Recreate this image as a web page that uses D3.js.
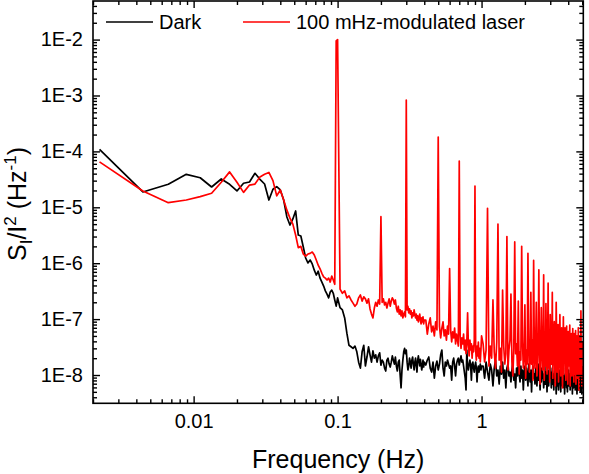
<!DOCTYPE html>
<html><head><meta charset="utf-8">
<script src="https://cdn.jsdelivr.net/npm/d3@7"></script>
<style>
body{margin:0;background:#fff}
svg{display:block}
text{font-family:"Liberation Sans",Arial,Helvetica,sans-serif;fill:#000}
</style>
</head><body>
<svg id="chart" width="589" height="474"></svg>
<script>
// ---------------- DATA ----------------
const seriesNames = ["Dark", "100 mHz-modulated laser"];
const seriesColors = ["#000000", "#ff0000"];

const xTickValues = [0.01, 0.1, 1];
const xTickLabels = ["0.01", "0.1", "1"];
const yTickValues = [1e-8, 1e-7, 1e-6, 1e-5, 1e-4, 1e-3, 1e-2];
const yTickLabels = ["1E-8", "1E-7", "1E-6", "1E-5", "1E-4", "1E-3", "1E-2"];

// frequency grid (Hz)
const freqLow = [0.00222,0.00444,0.00667,0.00889,0.01111,0.01333,0.01556,0.01778,0.02,0.02222,
0.02444,0.02667,0.02889,0.03111,0.03333,0.03556,0.03778,0.04,0.04222,0.04444,
0.04667,0.04889,0.05111,0.05333,0.05556,0.05778,0.06,0.06222,0.06444,0.06667,
0.06889,0.07111,0.07333,0.07556,0.07778,0.08,0.08222,0.08444,0.08667,0.08889,
0.09111,0.09333,0.09556,0.09778,0.1];
const freqMid = [0.104,0.108,0.112,0.116,0.12,0.124,0.128,0.132,0.136,0.14,
0.144,0.148,0.152,0.156,0.16,0.164,0.168,0.172,0.176,0.18,
0.184,0.188,0.192,0.196,0.2,0.204,0.208,0.212,0.216,0.22,
0.224,0.228,0.232,0.236,0.24,0.244,0.248,0.252,0.256,0.26,
0.264,0.268,0.272,0.276,0.28,0.284,0.288,0.292,0.296,0.3,
0.304,0.308,0.312,0.316,0.32,0.324,0.328,0.332,0.336,0.34,
0.344,0.348,0.352,0.356,0.36,0.364,0.368,0.372,0.376,0.38,
0.384,0.388,0.392,0.396,0.4];
const freqHigh = [0.41,0.42,0.43,0.44,0.45,0.46,0.47,0.48,0.49,0.5,
0.51,0.52,0.53,0.54,0.55,0.56,0.57,0.58,0.59,0.6,
0.61,0.62,0.63,0.64,0.65,0.66,0.67,0.68,0.69,0.7,
0.71,0.72,0.73,0.74,0.75,0.76,0.77,0.78,0.79,0.8,
0.81,0.82,0.83,0.84,0.85,0.86,0.87,0.88,0.89,0.9,
0.91,0.92,0.93,0.94,0.95,0.96,0.97,0.98,0.99,1.0];
const freqTop = [1.025,1.05,1.075,1.1,1.125,1.15,1.175,1.2,
1.225,1.25,1.275,1.3,1.325,1.35,1.375,1.4,
1.425,1.45,1.475,1.5,1.525,1.55,1.575,1.6,
1.625,1.65,1.675,1.7,1.725,1.75,1.775,1.8,
1.825,1.85,1.875,1.9,1.925,1.95,1.975,2.0,
2.025,2.05,2.075,2.1,2.125,2.15,2.175,2.2,
2.225,2.25,2.275,2.3,2.325,2.35,2.375,2.4,
2.425,2.45,2.475,2.5,2.525,2.55,2.575,2.6,
2.625,2.65,2.675,2.7,2.725,2.75,2.775,2.8,
2.825,2.85,2.875,2.9,2.925,2.95,2.975,3.0,
3.025,3.05,3.075,3.1,3.125,3.15,3.175,3.2,
3.225,3.25,3.275,3.3,3.325,3.35,3.375,3.4,
3.425,3.45,3.475,3.5,3.525,3.55,3.575,3.6,
3.625,3.65,3.675,3.7,3.725,3.75,3.775,3.8,
3.825,3.85,3.875,3.9,3.925,3.95,3.975,4.0,
4.025,4.05,4.075,4.1,4.125,4.15,4.175,4.2,
4.225,4.25,4.275,4.3,4.325,4.35,4.375,4.4,
4.425,4.45,4.475,4.5,4.525,4.55,4.575,4.6,
4.625,4.65,4.675,4.7,4.725,4.75,4.775,4.8,
4.825,4.85,4.875,4.9,4.925,4.95,4.975,5.0];

// Dark S_I/I^2 (Hz^-1)
const darkLow = [1.09e-4,1.88e-5,2.58e-5,3.89e-5,3.38e-5,2.31e-5,3.21e-5,2.58e-5,1.96e-5,2.69e-5,
2.84e-5,4.06e-5,3.17e-5,2.61e-5,1.35e-5,2.1e-5,2.34e-5,2.04e-5,1.35e-5,6.7e-6,
4.82e-6,6.2e-6,8.6e-6,3.19e-6,3.07e-6,1.95e-6,1.24e-6,1.01e-6,1.14e-6,9.7e-7,
7.5e-7,6.15e-7,7.2e-7,5.4e-7,4.6e-7,3.9e-7,3.2e-7,2.8e-7,2.4e-7,3.05e-7,
3.3e-7,2.9e-7,2.2e-7,1.71e-7,2.4e-7];
const darkMid = [1.6e-7,1.46e-7,1.05e-7,5.6e-8,3.4e-8,3.2e-8,3.0e-8,3.3e-8,2.6e-8,1.7e-8,
1.33e-8,2.6e-8,3.4e-8,1.45e-8,2.1e-8,3.2e-8,2.3e-8,1.7e-8,2.7e-8,2.0e-8,
2.3e-8,1.7e-8,2.2e-8,2.5e-8,1.5e-8,1.85e-8,1.7e-8,1.33e-8,1.18e-8,1.85e-8,
2.0e-8,1.57e-8,1.39e-8,1.7e-8,2.2e-8,1.85e-8,1.57e-8,2.1e-8,1.45e-8,1.18e-8,
1.7e-8,1.85e-8,1.0e-8,5.9e-9,1.23e-8,1.85e-8,2.6e-8,3.0e-8,2.4e-8,2.8e-8,
1.7e-8,1.23e-8,1.45e-8,2.0e-8,1.7e-8,1.33e-8,1.85e-8,2.1e-8,1.57e-8,1.23e-8,
1.7e-8,2.0e-8,1.45e-8,1.13e-8,1.85e-8,2.2e-8,1.78e-8,1.45e-8,1.9e-8,1.57e-8,
1.23e-8,1.45e-8,1.85e-8,1.39e-8,1.7e-8];
const darkHigh = [1.51e-8,1.85e-8,2.1e-8,1.33e-8,1.13e-8,1.7e-8,8.8e-9,1.45e-8,1.78e-8,1.23e-8,
1.57e-8,2.3e-8,2.8e-8,1.33e-8,9.6e-9,1.7e-8,1.45e-8,1.85e-8,1.57e-8,1.33e-8,
1.45e-8,8.1e-9,1.7e-8,2.0e-8,1.45e-8,9.6e-9,1.57e-8,1.85e-8,2.0e-8,1.51e-8,
1.85e-8,2.2e-8,1.7e-8,1.85e-8,1.45e-8,1.13e-8,8.8e-9,5.4e-9,2.8e-8,1.45e-8,
1.23e-8,1.57e-8,1.85e-8,1.45e-8,8.1e-9,1.57e-8,1.7e-8,1.33e-8,1.13e-8,1.45e-8,
1.7e-8,1.33e-8,7.5e-9,1.23e-8,1.45e-8,1.13e-8,1.33e-8,1.57e-8,1.23e-8,1.45e-8];
const darkTop = [1.45e-8,8.8e-9,1.71e-8,1.13e-8,8.1e-9,1.57e-8,1.23e-8,6.4e-9,
1.33e-8,1.85e-8,9.6e-9,1.23e-8,6.9e-9,1.45e-8,1.04e-8,1.71e-8,
8.8e-9,1.23e-8,5.9e-9,1.33e-8,1.57e-8,9.6e-9,1.13e-8,7.5e-9,
1.23e-8,1.71e-8,8.1e-9,1.04e-8,5.9e-9,1.33e-8,9.6e-9,1.57e-8,
1.04e-8,7.5e-9,1.45e-8,8.8e-9,1.23e-8,5.4e-9,1.13e-8,1.45e-8,
8.1e-9,1.33e-8,9.6e-9,6.4e-9,1.57e-8,1.04e-8,7.5e-9,1.23e-8,
5.0e-9,1.13e-8,1.45e-8,8.8e-9,1.04e-8,6.9e-9,1.33e-8,9.6e-9,
6.4e-9,1.23e-8,8.1e-9,1.57e-8,9.6e-9,5.4e-9,1.13e-8,7.5e-9,
1.33e-8,8.8e-9,1.04e-8,5.9e-9,8.1e-9,1.45e-8,6.9e-9,1.13e-8,
9.6e-9,5.0e-9,1.23e-8,8.1e-9,6.4e-9,1.04e-8,1.57e-8,8.8e-9,
1.13e-8,5.9e-9,8.1e-9,1.33e-8,6.9e-9,1.04e-8,5.4e-9,9.6e-9,
1.23e-8,7.5e-9,8.8e-9,4.6e-9,9.6e-9,1.33e-8,6.4e-9,8.1e-9,
5.4e-9,1.04e-8,8.1e-9,1.23e-8,7.5e-9,5.0e-9,9.6e-9,6.9e-9,
1.13e-8,6.4e-9,8.1e-9,1.33e-8,5.9e-9,9.6e-9,4.6e-9,8.1e-9,
1.04e-8,6.9e-9,1.23e-8,5.9e-9,8.1e-9,5.0e-9,9.6e-9,6.9e-9,
1.23e-8,6.4e-9,8.1e-9,1.04e-8,5.4e-9,8.8e-9,6.9e-9,1.13e-8,
6.4e-9,9.6e-9,4.6e-9,8.1e-9,1.13e-8,5.9e-9,7.5e-9,9.6e-9,
6.9e-9,1.23e-8,5.4e-9,8.8e-9,9.6e-9,5.9e-9,8.1e-9,4.6e-9,
7.5e-9,1.13e-8,6.4e-9,8.8e-9,5.4e-9,8.1e-9,1.04e-8,5.9e-9,
8.8e-9,5.0e-9,6.9e-9,1.23e-8,6.4e-9,9.6e-9,4.6e-9,1.45e-8];

// 100 mHz-modulated laser S_I/I^2 (Hz^-1)
const laserLow = [6.5e-5,1.96e-5,1.21e-5,1.35e-5,1.55e-5,1.78e-5,2.8e-5,4.3e-5,2.8e-5,1.85e-5,
2.5e-5,2.6e-5,3.5e-5,3.9e-5,4.2e-5,3.0e-5,1.6e-5,2.04e-5,1.35e-5,8.9e-6,
6.4e-6,5.0e-6,3.2e-6,1.9e-6,2.0e-6,1.46e-6,1.34e-6,1.46e-6,1.5e-6,1.58e-6,
1.4e-6,1.14e-6,9.2e-7,7.9e-7,6.6e-7,5.7e-7,5.4e-7,5.0e-7,5.4e-7,4.6e-7,
5.9e-7,5.0e-7,4.2e-7,9.5e-3,1.0e-2];
const laserMid = [3.45e-7,2.9e-7,3.2e-7,2.4e-7,2.6e-7,2.2e-7,1.93e-7,1.7e-7,1.86e-7,2.4e-7,
2.7e-7,2.1e-7,2.5e-7,2.3e-7,1.93e-7,2.3e-7,1.52e-7,1.23e-7,1.05e-7,1.58e-7,
2.0e-7,1.7e-7,2.2e-7,1.86e-7,6.8e-6,2.0e-7,2.3e-7,1.79e-7,2.0e-7,1.58e-7,
1.93e-7,2.3e-7,1.7e-7,2.1e-7,2.4e-7,2.2e-7,1.86e-7,2.2e-7,1.58e-7,1.35e-7,
1.7e-7,1.23e-7,1.46e-7,1.14e-7,1.4e-7,1.05e-7,1.23e-7,1.35e-7,1.1e-7,8.3e-4,
1.46e-7,1.7e-7,1.29e-7,1.52e-7,1.23e-7,1.4e-7,1.05e-7,1.29e-7,1.14e-7,1.46e-7,
1.23e-7,1.05e-7,1.23e-7,9.6e-8,1.14e-7,8.9e-8,1.05e-7,1.23e-7,9.6e-8,8.2e-8,
1.05e-7,8.9e-8,1.1e-7,8.2e-8,9.6e-8];
const laserHigh = [9.6e-8,5.4e-8,8.2e-8,1.05e-7,5.9e-8,7.5e-8,5.0e-8,8.9e-8,6.4e-8,1.8e-4,
7.5e-8,4.6e-8,6.9e-8,8.9e-8,5.0e-8,6.4e-8,4.2e-8,7.5e-8,5.4e-8,8e-7,
6.4e-8,3.9e-8,5.9e-8,4.6e-8,6.9e-8,3.6e-8,5.4e-8,4.2e-8,3.3e-8,6.7e-5,
5.0e-8,3.0e-8,4.6e-8,3.6e-8,5.4e-8,2.8e-8,4.2e-8,2.4e-8,3.9e-8,1.3e-7,
3.3e-8,2.2e-8,4.2e-8,2.8e-8,3.6e-8,2.0e-8,3.3e-8,2.6e-8,4.2e-8,2.4e-5,
2.8e-8,1.85e-8,3.3e-8,2.2e-8,3.9e-8,2.0e-8,3.0e-8,1.71e-8,2.8e-8,5.0e-8];
const laserTop = [3.6e-8,1.71e-8,2.8e-8,9.6e-6,1.45e-8,3.3e-8,2.0e-8,2.2e-7,
2.6e-8,1.33e-8,3.9e-8,5.0e-6,1.85e-8,3.0e-8,1.13e-8,3.3e-7,
3.3e-8,1.57e-8,2.4e-8,3.0e-6,1.23e-8,2.8e-8,4.2e-8,2.8e-7,
1.71e-8,9.6e-9,3.0e-8,2.4e-6,2.4e-8,3.6e-8,1.45e-8,2.1e-7,
1.04e-8,2.6e-8,1.85e-8,2.0e-6,3.9e-8,1.33e-8,2.2e-8,1.8e-7,
8.8e-9,2.8e-8,1.57e-8,1.5e-6,3.3e-8,1.13e-8,2.0e-8,3.0e-7,
1.57e-8,4.2e-8,8.1e-9,1.12e-6,2.6e-8,1.33e-8,3.3e-8,2.0e-7,
9.6e-9,2.0e-8,3.9e-8,7.6e-7,1.71e-8,6.9e-9,2.8e-8,1.6e-7,
3.0e-8,1.23e-8,2.2e-8,6.2e-7,8.1e-9,3.6e-8,1.45e-8,1.9e-7,
2.4e-8,1.04e-8,3.0e-8,4.4e-7,1.33e-8,2.6e-8,7.5e-9,1.2e-7,
3.3e-8,1.57e-8,2.0e-8,3.0e-7,8.8e-9,2.8e-8,4.2e-8,9e-8,
1.45e-8,6.4e-9,2.4e-8,2.0e-7,3.6e-8,1.13e-8,1.85e-8,8e-8,
7.5e-9,2.2e-8,3.0e-8,1.2e-7,1.71e-8,9.6e-9,3.6e-8,7e-8,
2.6e-8,5.9e-9,1.45e-8,1.1e-7,1.04e-8,3.0e-8,2.0e-8,7e-8,
3.9e-8,8.1e-9,1.71e-8,7.5e-8,1.23e-8,2.4e-8,6.9e-9,6e-8,
2.8e-8,1.45e-8,3.9e-8,7.8e-8,6.4e-9,2.0e-8,1.13e-8,5.5e-8,
3.3e-8,9.6e-9,2.4e-8,6.8e-8,1.33e-8,4.2e-8,7.5e-9,5.5e-8,
2.0e-8,1.04e-8,3.0e-8,6.2e-8,6.9e-9,2.6e-8,1.45e-8,5e-8,
3.6e-8,8.8e-9,1.85e-8,7e-8,1.13e-8,5.4e-9,2.8e-8,5e-8,
2.2e-8,4.2e-8,9.6e-9,1.4e-7,1.45e-8,3.0e-8,6.4e-9,4e-8];

// ---------------- CHART ----------------
const freq = freqLow.concat(freqMid, freqHigh, freqTop);
const dark = darkLow.concat(darkMid, darkHigh, darkTop);
const laser = laserLow.concat(laserMid, laserHigh, laserTop);
const series = [dark, laser].map((vals, i) => ({
  name: seriesNames[i], color: seriesColors[i],
  points: freq.map((f, j) => [f, vals[j]])
}));

const svg = d3.select("#chart");
const plot = {left: 93, right: 583.3, top: 1, bottom: 403.3};

const x = d3.scaleLog().domain([0.002, 5.09]).range([plot.left, plot.right]);
const y = d3.scaleLog().domain([3.12e-9, 0.049]).range([plot.bottom, plot.top]);

const xMinor = x.ticks().filter(v => !xTickValues.some(t => Math.abs(t - v) / t < 1e-6));
const yMinor = y.ticks().filter(v => !yTickValues.some(t => Math.abs(t - v) / t < 1e-6));

svg.append("defs").append("clipPath").attr("id", "clip")
  .append("rect").attr("x", plot.left).attr("y", plot.top)
  .attr("width", plot.right - plot.left).attr("height", plot.bottom - plot.top);

// data lines
const line = d3.line().x(d => x(d[0])).y(d => y(d[1]));
svg.append("g").attr("clip-path", "url(#clip)")
  .selectAll("path").data(series).join("path")
  .attr("d", d => line(d.points))
  .attr("fill", "none")
  .attr("stroke", d => d.color)
  .attr("stroke-width", 1.7)
  .attr("stroke-linejoin", "round");

// axes
const MAJ = 7, MIN = 4;
function styleAxis(g) {
  g.select(".domain").remove();
  g.selectAll(".tick line").attr("stroke", "#000").attr("stroke-width", 1.4);
  g.selectAll(".tick text").style("font-size", "20px").attr("fill", "#000");
}
// bottom
svg.append("g").attr("transform", `translate(0,${plot.bottom})`)
  .call(d3.axisBottom(x).tickValues(xTickValues).tickSize(-MAJ).tickPadding(11)
    .tickFormat((d, i) => xTickLabels[i])).call(styleAxis);
svg.append("g").attr("transform", `translate(0,${plot.bottom})`)
  .call(d3.axisBottom(x).tickValues(xMinor).tickSize(-MIN).tickFormat("")).call(styleAxis);
// top
svg.append("g").attr("transform", `translate(0,${plot.top})`)
  .call(d3.axisTop(x).tickValues(xTickValues).tickSize(-MAJ).tickFormat("")).call(styleAxis);
svg.append("g").attr("transform", `translate(0,${plot.top})`)
  .call(d3.axisTop(x).tickValues(xMinor).tickSize(-MIN).tickFormat("")).call(styleAxis);
// left
svg.append("g").attr("transform", `translate(${plot.left},0)`)
  .call(d3.axisLeft(y).tickValues(yTickValues).tickSize(-MAJ).tickPadding(10)
    .tickFormat((d, i) => yTickLabels[i])).call(styleAxis);
svg.append("g").attr("transform", `translate(${plot.left},0)`)
  .call(d3.axisLeft(y).tickValues(yMinor).tickSize(-MIN).tickFormat("")).call(styleAxis);
// right
svg.append("g").attr("transform", `translate(${plot.right},0)`)
  .call(d3.axisRight(y).tickValues(yTickValues).tickSize(-MAJ).tickFormat("")).call(styleAxis);
svg.append("g").attr("transform", `translate(${plot.right},0)`)
  .call(d3.axisRight(y).tickValues(yMinor).tickSize(-MIN).tickFormat("")).call(styleAxis);

// frame
svg.append("rect").attr("x", plot.left).attr("y", plot.top)
  .attr("width", plot.right - plot.left).attr("height", plot.bottom - plot.top)
  .attr("fill", "none").attr("stroke", "#000").attr("stroke-width", 1.6);

// axis titles
svg.append("text").attr("x", (plot.left + plot.right) / 2).attr("y", 468)
  .attr("text-anchor", "middle").style("font-size", "25px").text("Frequency (Hz)");

const yt = svg.append("text").attr("transform", "translate(26,204) rotate(-90)")
  .attr("text-anchor", "middle").style("font-size", "25px");
yt.append("tspan").text("S");
yt.append("tspan").attr("dy", 6).style("font-size", "17px").text("I");
yt.append("tspan").attr("dy", -6).text("/I");
yt.append("tspan").attr("dy", -10).style("font-size", "17px").text("2");
yt.append("tspan").attr("dy", 10).text(" (Hz");
yt.append("tspan").attr("dy", -10).style("font-size", "17px").text("-1");
yt.append("tspan").attr("dy", 10).text(")");

// legend
const legendX = [106, 243];
const legend = svg.append("g").selectAll("g").data(series).join("g")
  .attr("transform", (d, i) => `translate(${legendX[i]},22)`);
legend.append("line").attr("x1", 0).attr("x2", 47).attr("y1", 0).attr("y2", 0)
  .attr("stroke", d => d.color).attr("stroke-width", 1.7);
legend.append("text").attr("x", 53).attr("y", 7).style("font-size", "20px").text(d => d.name);
</script>
</body></html>
